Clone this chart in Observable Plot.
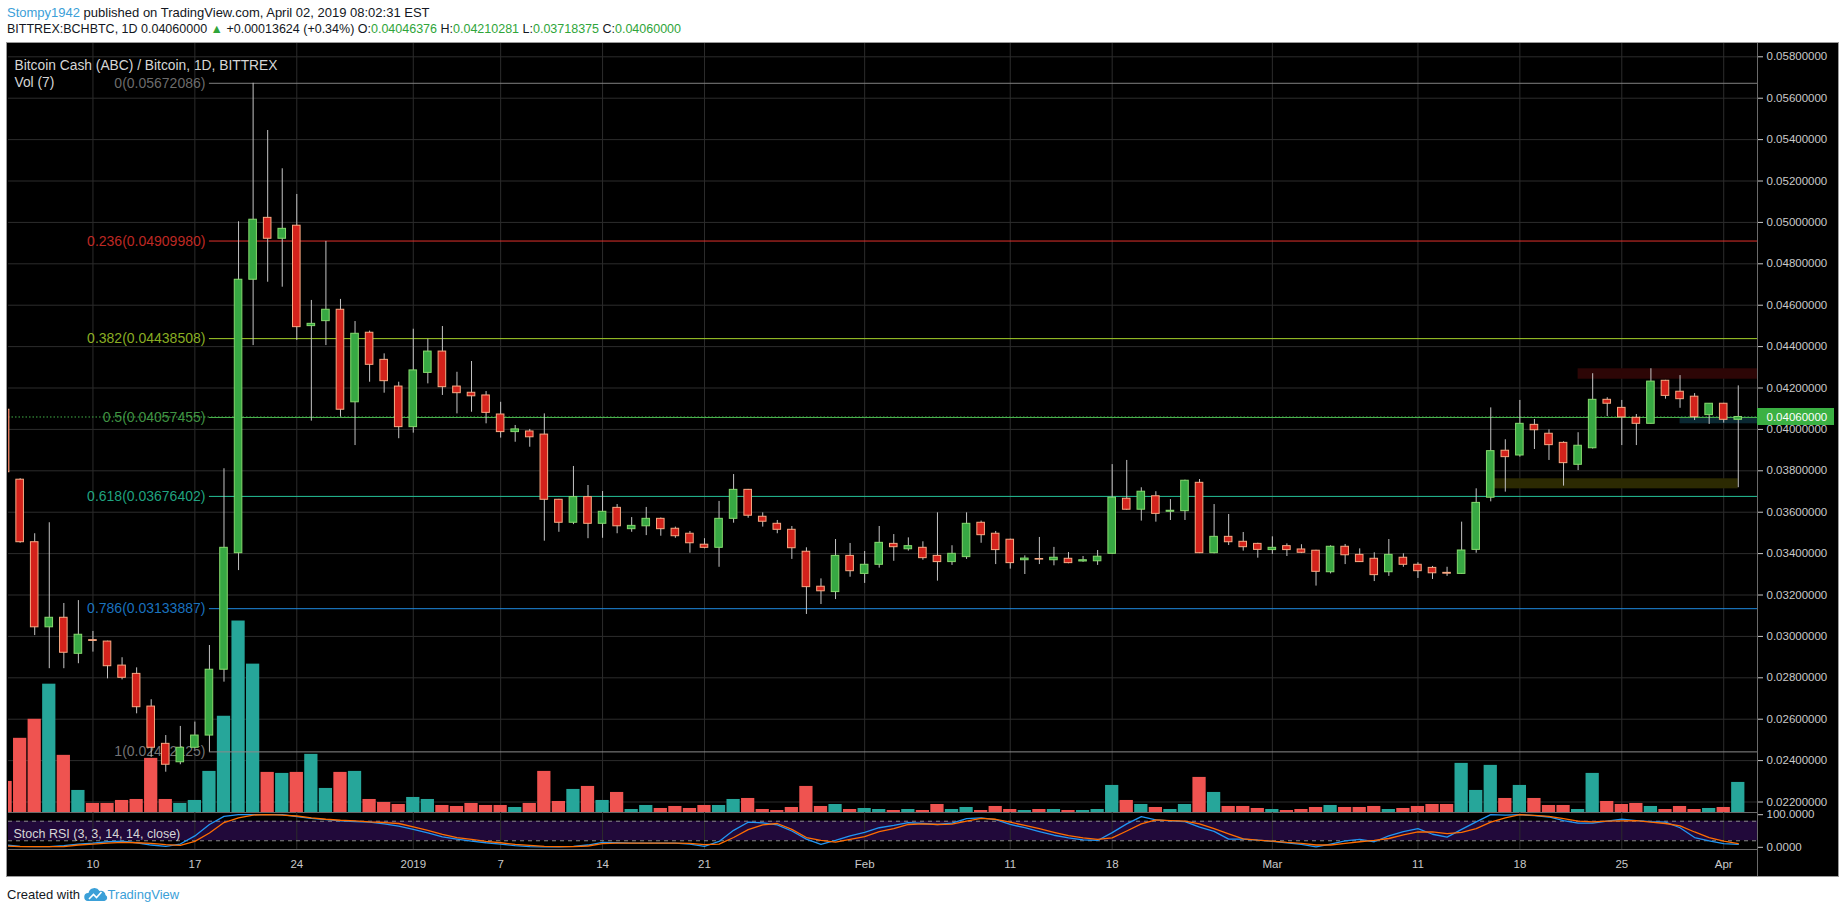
<!DOCTYPE html>
<html>
<head>
<meta charset="utf-8">
<script src="https://cdn.jsdelivr.net/npm/d3@7"></script>
<script src="https://cdn.jsdelivr.net/npm/@observablehq/plot@0.6"></script>
<style>
  html, body { margin:0; padding:0; background:#fff; }
  body { width:1840px; height:913px; position:relative; overflow:hidden; font-family:"Liberation Sans", Arial, sans-serif; }
  #panel { position:absolute; left:6px; top:42px; width:1831px; height:833px; background:#000; border:1px solid #9a9a9a; }
  .layer { position:absolute; left:0; }
  .layer svg { display:block; overflow:visible; }
  #h1, #h2, #foot { position:absolute; left:7px; white-space:nowrap; color:#131722; font-size:12.5px; }
  #h1 { top:5px; font-size:13px; }
  #h2 { top:22px; }
  #foot { top:886px; font-size:13px; display:flex; align-items:center; }
  .user { color:#3ba0d8; }
  .g { color:#2fa53a; }
</style>
</head>
<body>
<div id="h1"></div>
<div id="h2"></div>
<div id="panel"></div>
<div class="layer" id="gridLayer" style="top:43px"></div>
<div class="layer" id="volLayer" style="top:43px"></div>
<div class="layer" id="priceLayer" style="top:43px"></div>
<div class="layer" id="stochLayer" style="top:812px"></div>
<div id="foot">Created with&nbsp;<svg width="24" height="17" viewBox="0 0 24 17"><path d="M4 15 a4 4 0 0 1 0.5-8 a6 6 0 0 1 11-2 a4.5 4.5 0 0 1 6 4 a3.2 3.2 0 0 1 -1 6 z" fill="#3ba0d8"/><path d="M5 13 l4.5-4.5 l3 3 l5-5.5" stroke="#fff" stroke-width="1.6" fill="none"/></svg><span style="color:#3ba0d8">TradingView</span></div>
<script>
// ---------- texts ----------
const author = "Stompy1942";
const published = "published on TradingView.com, April 02, 2019 08:02:31 EST";
const ticker = "BITTREX:BCHBTC, 1D";
const symbolTitle = "Bitcoin Cash (ABC) / Bitcoin, 1D, BITTREX";
const volTitle = "Vol (7)";
const stochTitle = "Stoch RSI (3, 3, 14, 14, close)";

// ---------- daily data (from 2018-12-04, one entry per day) ----------
const firstDay = "2018-12-04";
const open = [0.04095,0.03757,0.03455,0.03044,0.03090,0.02916,0.02982,0.02975,0.02859,0.02819,
0.02661,0.02481,0.02392,0.02462,0.02521,0.02839,0.03402,0.04723,0.05022,0.04921,
0.04984,0.04499,0.04523,0.04578,0.04131,0.04467,0.04336,0.04207,0.04011,0.04273,
0.04376,0.04207,0.04177,0.04164,0.04072,0.03987,0.03990,0.03975,0.03660,0.03549,
0.03673,0.03544,0.03621,0.03518,0.03532,0.03568,0.03520,0.03496,0.03443,0.03428,
0.03568,0.03708,0.03578,0.03544,0.03515,0.03409,0.03240,0.03214,0.03389,0.03302,
0.03346,0.03447,0.03421,0.03428,0.03389,0.03359,0.03383,0.03549,0.03496,0.03467,
0.03368,0.03374,0.03368,0.03375,0.03362,0.03363,0.03399,0.03665,0.03612,0.03677,
0.03602,0.03605,0.03742,0.03402,0.03481,0.03457,0.03447,0.03417,0.03436,0.03420,
0.03414,0.03310,0.03433,0.03394,0.03375,0.03310,0.03380,0.03346,0.03331,0.03307,
0.03302,0.03418,0.03670,0.03897,0.03874,0.04022,0.03979,0.03935,0.03829,0.03909,
0.04143,0.04104,0.04056,0.04027,0.04235,0.04182,0.04158,0.04069,0.04124,0.04046376];
const high = [0.04110,0.03762,0.03496,0.03549,0.03159,0.03173,0.03024,0.02977,0.02897,0.02848,
0.02694,0.02521,0.02565,0.02586,0.02956,0.03810,0.05003,0.05672086,0.05444,0.05259,
0.05135,0.04623,0.04908,0.04628,0.04521,0.04475,0.04365,0.04228,0.04484,0.04436,
0.04497,0.04276,0.04328,0.04183,0.04131,0.04019,0.04000,0.04075,0.03662,0.03821,
0.03729,0.03700,0.03637,0.03574,0.03623,0.03572,0.03528,0.03507,0.03472,0.03652,
0.03782,0.03710,0.03597,0.03560,0.03531,0.03428,0.03278,0.03468,0.03449,0.03410,
0.03531,0.03492,0.03476,0.03457,0.03597,0.03438,0.03597,0.03557,0.03507,0.03470,
0.03389,0.03478,0.03430,0.03405,0.03386,0.03415,0.03830,0.03850,0.03718,0.03699,
0.03661,0.03755,0.03758,0.03637,0.03589,0.03502,0.03450,0.03481,0.03447,0.03443,
0.03416,0.03438,0.03444,0.03423,0.03404,0.03468,0.03399,0.03356,0.03338,0.03334,
0.03552,0.03713,0.04104,0.03950,0.04140,0.04048,0.03998,0.03940,0.03984,0.04269,
0.04153,0.04140,0.04072,0.04293,0.04237,0.04260,0.04173,0.04125,0.04126,0.04210281];
const low = [0.03790,0.03450,0.03004,0.02844,0.02844,0.02868,0.02924,0.02795,0.02790,0.02626,
0.02416,0.02344,0.02380,0.02460,0.02441,0.02779,0.03318,0.04405,0.04711,0.04687,
0.04430,0.04040,0.04405,0.04059,0.03922,0.04228,0.04175,0.03955,0.03982,0.04220,
0.04164,0.04075,0.04083,0.04027,0.03958,0.03938,0.03914,0.03460,0.03503,0.03540,
0.03472,0.03474,0.03496,0.03503,0.03487,0.03484,0.03474,0.03402,0.03423,0.03334,
0.03547,0.03571,0.03528,0.03496,0.03372,0.03106,0.03154,0.03178,0.03286,0.03256,
0.03330,0.03363,0.03412,0.03368,0.03267,0.03343,0.03372,0.03450,0.03347,0.03325,
0.03299,0.03347,0.03341,0.03351,0.03358,0.03343,0.03397,0.03609,0.03557,0.03552,
0.03560,0.03560,0.03400,0.03399,0.03439,0.03412,0.03378,0.03396,0.03386,0.03400,
0.03243,0.03302,0.03347,0.03357,0.03265,0.03290,0.03334,0.03280,0.03275,0.03290,
0.03300,0.03402,0.03650,0.03697,0.03866,0.03903,0.03850,0.03726,0.03801,0.03905,
0.04062,0.03922,0.03922,0.04025,0.04146,0.04102,0.04043,0.04024,0.04030,0.03718375];
const close = [0.03793,0.03455,0.03044,0.03090,0.02921,0.03008,0.02978,0.02856,0.02800,0.02658,
0.02462,0.02380,0.02462,0.02521,0.02839,0.03428,0.04723,0.05013,0.04921,0.04969,
0.04494,0.04510,0.04578,0.04095,0.04462,0.04312,0.04233,0.04011,0.04285,0.04376,
0.04204,0.04175,0.04160,0.04080,0.03987,0.04000,0.03962,0.03660,0.03549,0.03673,
0.03544,0.03602,0.03532,0.03534,0.03568,0.03518,0.03484,0.03450,0.03428,0.03568,
0.03708,0.03583,0.03554,0.03515,0.03426,0.03238,0.03218,0.03389,0.03315,0.03346,
0.03452,0.03431,0.03436,0.03378,0.03359,0.03399,0.03544,0.03489,0.03417,0.03354,
0.03376,0.03371,0.03380,0.03354,0.03368,0.03385,0.03670,0.03612,0.03699,0.03592,
0.03607,0.03752,0.03402,0.03481,0.03455,0.03431,0.03418,0.03428,0.03417,0.03404,
0.03312,0.03433,0.03392,0.03359,0.03296,0.03394,0.03346,0.03315,0.03305,0.03303,
0.03415,0.03645,0.03895,0.03866,0.04027,0.03996,0.03924,0.03837,0.03921,0.04143,
0.04124,0.04058,0.04027,0.04231,0.04162,0.04146,0.04059,0.04124,0.04046376,0.04060000];
// volume (relative units)
const volume = [31,74,93,128,57,22,9,9,12,13,
54,13,9,12,41,96,191,148,40,39,
40,58,24,40,41,13,10,8,15,13,
7,6,9,7,7,5,9,41,11,23,
26,12,20,3,7,4,6,4,7,7,
13,14,3,2,5,26,6,8,3,4,
3,2,3,2,8,3,5,2,6,3,
2,3,3,2,2,3,27,12,8,5,
3,8,35,20,6,6,4,3,2,3,
5,7,5,5,6,3,4,6,8,8,
49,22,47,14,27,14,7,7,3,39,
11,8,9,6,3,6,3,4,5,30];
const stochK = [7,3,2,2,5,10,13,17,19,14,
7,3,10,35,70,95,100,100,100,100,
94,89,85,81,79,77,72,65,55,44,
32,25,19,14,10,5,2,1.5,1.5,3,
7,15,14,13,13,13,13,10,3,18,
52,77,75,69,50,25,9,21,35,46,
60,67,76,73,70,74,88,90,85,70,
60,48,37,29,23,21,45,72,94,84,
81,79,62,49,25,25,22,18,14,9,
1,10,20,24,17,35,48,57,40,31,
55,78,100,99,100,97,93,82,74,74,
80,86,82,79,77,60,30,20,11,9];
const stochD = [4,2,2,2,2,7,10,13,15,14,
12,8,6,18,44,76,90,99,100,99,
96,90,86,83,81,78,76,73,63,52,
40,30,24,18,14,9,6,3,2,2,
4,11,13,13,13,13,13,12,8,10,
30,54,69,73,55,30,21,16,24,33,
48,57,70,72,70,71,80,89,86,77,
67,57,46,36,29,24,29,50,72,84,
82,80,72,57,41,26,22,19,15,12,
7,7,12,17,21,27,38,47,47,42,
46,57,77,90,100,98,95,88,80,78,
80,81,82,77,73,66,47,30,19,11];

// ---------- axes ----------
const priceTicks = [0.022,0.024,0.026,0.028,0.030,0.032,0.034,0.036,0.038,0.040,0.042,0.044,0.046,0.048,0.050,0.052,0.054,0.056,0.058];
const tickDates = ["2018-12-10","2018-12-17","2018-12-24","2019-01-01","2019-01-07","2019-01-14","2019-01-21","2019-02-01","2019-02-11","2019-02-18","2019-03-01","2019-03-11","2019-03-18","2019-03-25","2019-04-01"];
const tickLabels = ["10","17","24","2019","7","14","21","Feb","11","18","Mar","11","18","25","Apr"];
const stochTicks = [0, 100];
const stochBands = [20, 80];

// ---------- drawings ----------
const fibRatios = [0, 0.236, 0.382, 0.5, 0.618, 0.786, 1];
const fibPrices = [0.05672086, 0.04909980, 0.04438508, 0.04057455, 0.03676402, 0.03133887, 0.02442125];
const fibStart = "2018-12-18";
const boxStart = ["2019-03-22", "2019-03-16T06:00Z", "2019-03-29"];
const boxEnd = ["2019-04-06", "2019-04-02", "2019-04-06"];
const boxLow = [0.042425, 0.037130, 0.040271];
const boxHigh = [0.042928, 0.037614, 0.040590];

// ---------- styles ----------
const FONT = '"Liberation Sans", Arial, sans-serif';
const GRID = "#2c2c2c";
const SEP = "#6a6a6a";
const UP_FILL = "#37a843", UP_STROKE = "#86d96e";
const DOWN_FILL = "#d3221b", DOWN_STROKE = "#f8aa84";
const WICK = "#c4c4c4";
const VOL_UP = "#26a69a", VOL_DOWN = "#ef5350";
const FIB_COLORS = ["#808080", "#e0312b", "#a4cf2a", "#4caf50", "#25c299", "#1f8ae0", "#8a8a8a"];
const BOX_COLORS = ["#2d0606", "#2c2a02", "#0a2731"];

// ---------- build ----------
const parseDate = s => new Date(s.length === 10 ? s + "T00:00Z" : s);
const day0 = parseDate(firstDay);
const candles = open.map((o, i) => ({
  date: d3.utcDay.offset(day0, i), open: o, high: high[i], low: low[i], close: close[i],
  volume: volume[i], k: stochK[i], d: stochD[i], up: close[i] > o
}));
const tickDays = tickDates.map(parseDate);
const labelByTime = new Map(tickDays.map((d, i) => [+d, tickLabels[i]]));
const fibStartDate = parseDate(fibStart);
const fibs = fibRatios.map((r, j) => ({ratio: r, price: fibPrices[j], color: FIB_COLORS[j]}));
const boxes = boxStart.map((s, j) => ({x1: parseDate(s), x2: parseDate(boxEnd[j]), y1: boxLow[j], y2: boxHigh[j], color: BOX_COLORS[j]}));
const last = candles[candles.length - 1];
const fmt8 = d3.format(".8f");

const xDomain = [new Date("2018-12-04T04:48Z"), new Date("2019-04-03T07:41Z")];
const yDomain = [0.021493, 0.058643];
const shift = (d, m) => d3.utcMinute.offset(d, m);
const BODY = 375, VOLW = 655; // half-widths in minutes

const W = 1840, H = 769;
const base = (y) => ({
  width: W, height: H, marginLeft: 8, marginRight: 83, marginTop: 0, marginBottom: 0,
  x: {type: "utc", domain: xDomain, axis: null}, y,
  style: {background: "transparent", color: "#c9c9c9", fontFamily: FONT, fontSize: "11.5px", overflow: "visible"}
});

// header
document.getElementById("h1").innerHTML = `<span class="user">${author}</span> ${published}`;
const chg = last.close - last.open;
const sgn = chg >= 0 ? "+" : "";
document.getElementById("h2").innerHTML =
  `${ticker} ${fmt8(last.close)} <span class="g">${chg >= 0 ? "▲" : "▼"}</span> ${sgn}${fmt8(chg)} (${sgn}${(chg / last.open * 100).toFixed(2)}%) ` +
  `O:<span class="g">${fmt8(last.open)}</span> H:<span class="g">${fmt8(last.high)}</span> L:<span class="g">${fmt8(last.low)}</span> C:<span class="g">${fmt8(last.close)}</span>`;

// layer A: grid
document.getElementById("gridLayer").append(Plot.plot({
  ...base({domain: yDomain, axis: null}),
  marks: [
    Plot.ruleY(priceTicks, {stroke: GRID}),
    Plot.ruleX(tickDays, {stroke: GRID})
  ]
}));

// layer B: volume
document.getElementById("volLayer").append(Plot.plot({
  ...base({domain: [0, d3.max(volume) / 0.249], axis: null}),
  marks: [
    Plot.rect(candles, {filter: d => d.up, x1: d => shift(d.date, -VOLW), x2: d => shift(d.date, VOLW), y1: 0, y2: "volume", fill: VOL_UP, clip: true}),
    Plot.rect(candles, {filter: d => !d.up, x1: d => shift(d.date, -VOLW), x2: d => shift(d.date, VOLW), y1: 0, y2: "volume", fill: VOL_DOWN, clip: true})
  ]
}));

// layer C: price
document.getElementById("priceLayer").append(Plot.plot({
  ...base({domain: yDomain, axis: "right", ticks: priceTicks, tickFormat: fmt8, tickSize: 5, tickPadding: 4, label: null}),
  color: {type: "identity"},
  marks: [
    Plot.rect(boxes, {x1: "x1", x2: "x2", y1: "y1", y2: "y2", fill: d => d.color, clip: true}),
    Plot.ruleY(fibs, {y: "price", x1: () => fibStartDate, x2: () => xDomain[1], stroke: d => d.color, clip: true}),
    Plot.text(fibs, {x: () => fibStartDate, y: "price", text: d => `${d.ratio}(${fmt8(d.price)})`, textAnchor: "end", dx: -4, fill: d => d.color, fillOpacity: 0.85, fontSize: 14}),
    Plot.ruleY([last.close], {y: d => d, stroke: "#43b049", strokeDasharray: "1.5,2", clip: true}),
    Plot.ruleX(candles, {x: "date", y1: "low", y2: "high", stroke: WICK, clip: true}),
    Plot.rect(candles, {filter: d => d.up, x1: d => shift(d.date, -BODY), x2: d => shift(d.date, BODY), y1: "open", y2: "close", fill: UP_FILL, stroke: UP_STROKE, clip: true}),
    Plot.rect(candles, {filter: d => !d.up, x1: d => shift(d.date, -BODY), x2: d => shift(d.date, BODY), y1: "open", y2: "close", fill: DOWN_FILL, stroke: DOWN_STROKE, clip: true}),
    Plot.text([symbolTitle], {frameAnchor: "top-left", dx: 6, dy: 17, text: d => d, textAnchor: "start", fill: "#d6d6d6", fontSize: 13.8}),
    Plot.text([volTitle], {frameAnchor: "top-left", dx: 6, dy: 34, text: d => d, textAnchor: "start", fill: "#d6d6d6", fontSize: 13.8}),
    Plot.ruleX([xDomain[1]], {stroke: SEP}),
    Plot.ruleY([yDomain[0]], {stroke: SEP}),
    Plot.rect([last.close], {y1: d => d, y2: d => d, insetTop: -8.5, insetBottom: -8.5, insetLeft: 1749, insetRight: -77, fill: "#3bb143"}),
    Plot.text([last.close], {y: d => d, frameAnchor: "right", dx: 9, textAnchor: "start", text: d => fmt8(d), fill: "#ffffff", fontSize: 11.5})
  ]
}));

// layer D: Stoch RSI + time axis
document.getElementById("stochLayer").append(Plot.plot({
  width: W, height: 64, marginLeft: 8, marginRight: 83, marginTop: 0, marginBottom: 27,
  x: {type: "utc", domain: xDomain, ticks: tickDays, tickFormat: d => labelByTime.get(+d), tickSize: 0, tickPadding: 10, label: null},
  y: {domain: [-6.75, 106.75], axis: "right", ticks: stochTicks, tickFormat: d3.format(".4f"), tickSize: 5, tickPadding: 4, label: null},
  style: {background: "transparent", color: "#c9c9c9", fontFamily: FONT, fontSize: "11.5px", overflow: "visible"},
  marks: [
    Plot.rect([stochBands], {y1: d => d[0], y2: d => d[1], fill: "#21093a"}),
    Plot.ruleX(tickDays, {stroke: GRID}),
    Plot.ruleY(stochBands, {stroke: "#8a8a8a", strokeDasharray: "4,4"}),
    Plot.line(candles, {x: "date", y: "k", stroke: "#2196f3", strokeWidth: 1.3, clip: true}),
    Plot.line(candles, {x: "date", y: "d", stroke: "#ff6d00", strokeWidth: 1.3, clip: true}),
    Plot.text([stochTitle], {frameAnchor: "top-left", dx: 5, dy: 17, text: d => d, textAnchor: "start", fill: "#d6d6d6", fontSize: 12.5}),
    Plot.ruleX([xDomain[1]], {stroke: SEP, insetBottom: -27}),
    Plot.ruleY([-6.75], {stroke: SEP})
  ]
}));
</script>
</body>
</html>
